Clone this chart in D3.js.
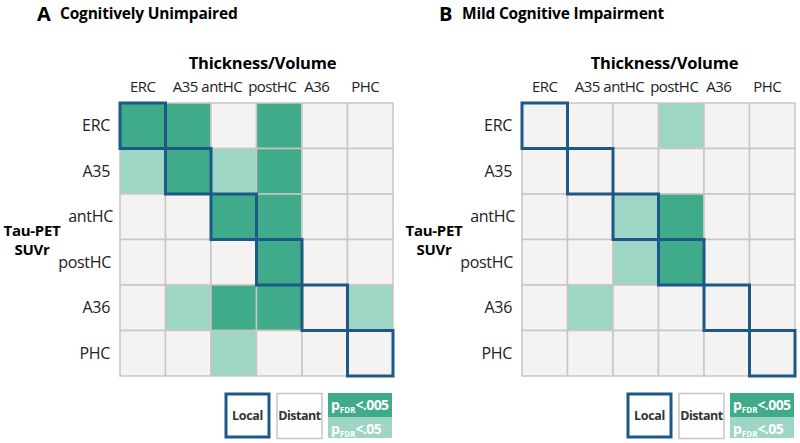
<!DOCTYPE html>
<html>
<head>
<meta charset="utf-8">
<script src="https://cdn.jsdelivr.net/npm/d3@7"></script>
<style>
  body { margin: 0; background: #fff; }
  text { font-family: "Open Sans", sans-serif; }
</style>
</head>
<body>
<div id="chart"></div>
<script>
const width = 800, height = 443;

// regions (rows: Tau-PET SUVr, columns: Thickness/Volume)
const regions = ["ERC", "A35", "antHC", "postHC", "A36", "PHC"];
// 0 = not significant, 1 = pFDR<.05, 2 = pFDR<.005
const cuValues = [
    [2, 2, 0, 2, 0, 0],
    [1, 2, 1, 2, 0, 0],
    [0, 0, 2, 2, 0, 0],
    [0, 0, 0, 2, 0, 0],
    [0, 1, 2, 2, 0, 1],
    [0, 0, 1, 0, 0, 0]
];
const mciValues = [
    [0, 0, 0, 1, 0, 0],
    [0, 0, 0, 0, 0, 0],
    [0, 0, 1, 2, 0, 0],
    [0, 0, 1, 2, 0, 0],
    [0, 1, 0, 0, 0, 0],
    [0, 0, 0, 0, 0, 0]
];
const panelLetters = ["A", "B"];
const panelTitles = ["Cognitively Unimpaired", "Mild Cognitive Impairment"];

const fillColor = d3.scaleOrdinal().domain([0, 1, 2]).range(["#f5f3f2", "#9dd6c4", "#40ab8b"]);
const localBlue = "#1d5987";
const gridGray = "#c9c5c3";

const svg = d3.select("#chart").append("svg")
    .attr("width", width)
    .attr("height", height);

function drawPanel(originX, letter, title, values) {
    const cell = 45.5;
    const gridTop = 103;
    const x = d3.scaleBand().domain(regions).range([originX, originX + cell * 6]);
    const y = d3.scaleBand().domain(regions).range([gridTop, gridTop + cell * 6]);
    const g = svg.append("g");

    // panel title
    g.append("text")
        .attr("x", originX - 83)
        .attr("y", 21)
        .attr("font-size", "20px")
        .attr("font-weight", "bold")
        .text(letter);
    g.append("text")
        .attr("x", originX - 60)
        .attr("y", 19)
        .attr("font-size", "15.5px")
        .attr("font-weight", "bold")
        .attr("letter-spacing", "-0.2px")
        .text(title);

    // column header
    g.append("text")
        .attr("x", originX + cell * 3 + 6)
        .attr("y", 69)
        .attr("text-anchor", "middle")
        .attr("font-size", "16.5px")
        .attr("font-weight", "bold")
        .attr("letter-spacing", "-0.2px")
        .text("Thickness/Volume");

    const colShift = [0, -3, -12, -7, -8, -5];
    g.selectAll(".col").data(regions).enter().append("text")
        .attr("x", (d, i) => x(d) + x.bandwidth() / 2 + colShift[i])
        .attr("y", 92)
        .attr("text-anchor", "middle")
        .attr("font-size", "15px")
        .attr("letter-spacing", "-0.5px")
        .attr("fill", "#222")
        .text(d => d);

    g.selectAll(".row").data(regions).enter().append("text")
        .attr("x", (d, i) => originX - (i === 2 ? 7 : i === 3 ? 9 : 10))
        .attr("y", d => y(d) + y.bandwidth() / 2)
        .attr("dy", "0.35em")
        .attr("text-anchor", "end")
        .attr("font-size", "16px")
        .attr("letter-spacing", "-0.3px")
        .attr("fill", "#222")
        .text(d => d);

    // row header
    const rh = g.append("text")
        .attr("x", originX - 88)
        .attr("text-anchor", "middle")
        .attr("font-size", "15px")
        .attr("font-weight", "bold")
        .attr("letter-spacing", "-0.3px");
    rh.append("tspan").attr("x", originX - 88).attr("y", 236).text("Tau-PET");
    rh.append("tspan").attr("x", originX - 88).attr("y", 255).text("SUVr");

    // cells
    const cells = [];
    values.forEach((row, r) => row.forEach((v, c) => cells.push({ r: regions[r], c: regions[c], v })));
    g.selectAll(".cell").data(cells).enter().append("rect")
        .attr("x", d => x(d.c))
        .attr("y", d => y(d.r))
        .attr("width", x.bandwidth())
        .attr("height", y.bandwidth())
        .attr("fill", d => fillColor(d.v))
        .attr("stroke", gridGray)
        .attr("stroke-width", 1.5);

    // local (diagonal) outlines
    g.selectAll(".local").data(regions).enter().append("rect")
        .attr("x", d => x(d))
        .attr("y", d => y(d))
        .attr("width", x.bandwidth())
        .attr("height", y.bandwidth())
        .attr("fill", "none")
        .attr("stroke", localBlue)
        .attr("stroke-width", 3);

    // legend
    const gridRight = originX + cell * 6;
    const ly = 393, ls = 45;
    const leg = g.append("g");
    leg.append("rect")
        .attr("x", gridRight - 167).attr("y", ly + 1)
        .attr("width", ls - 2).attr("height", ls - 2)
        .attr("fill", "#fff").attr("stroke", localBlue).attr("stroke-width", 3);
    leg.append("text")
        .attr("x", gridRight - 167 + (ls - 2) / 2).attr("y", ly + 23)
        .attr("dy", "0.35em").attr("text-anchor", "middle")
        .attr("font-size", "12.5px").attr("font-weight", "bold")
        .attr("letter-spacing", "-0.3px").attr("fill", "#333")
        .text("Local");
    leg.append("rect")
        .attr("x", gridRight - 116).attr("y", ly + 0.5)
        .attr("width", ls).attr("height", ls)
        .attr("fill", "#fff").attr("stroke", gridGray).attr("stroke-width", 1.5);
    leg.append("text")
        .attr("x", gridRight - 116 + ls / 2).attr("y", ly + 23)
        .attr("dy", "0.35em").attr("text-anchor", "middle")
        .attr("font-size", "12.5px").attr("font-weight", "bold")
        .attr("letter-spacing", "-0.5px").attr("fill", "#333")
        .text("Distant");

    const sig = [{ v: 2, label: "<.005" }, { v: 1, label: "<.05" }];
    sig.forEach((s, i) => {
        const by = ly + i * 24;
        leg.append("rect")
            .attr("x", gridRight - 65).attr("y", by)
            .attr("width", 64).attr("height", i === 0 ? 24 : 21)
            .attr("fill", fillColor(s.v));
        const t = leg.append("text")
            .attr("x", gridRight - 62).attr("y", by + 17)
            .attr("fill", "#fff").attr("font-weight", "bold")
            .attr("font-size", "14px");
        t.append("tspan").text("p");
        t.append("tspan").attr("font-size", "8px").attr("dy", 3).text("FDR");
        t.append("tspan").attr("dy", -3).attr("letter-spacing", "-0.6px").text(s.label);
    });
}

drawPanel(120, panelLetters[0], panelTitles[0], cuValues);
drawPanel(522, panelLetters[1], panelTitles[1], mciValues);
</script>
</body>
</html>
